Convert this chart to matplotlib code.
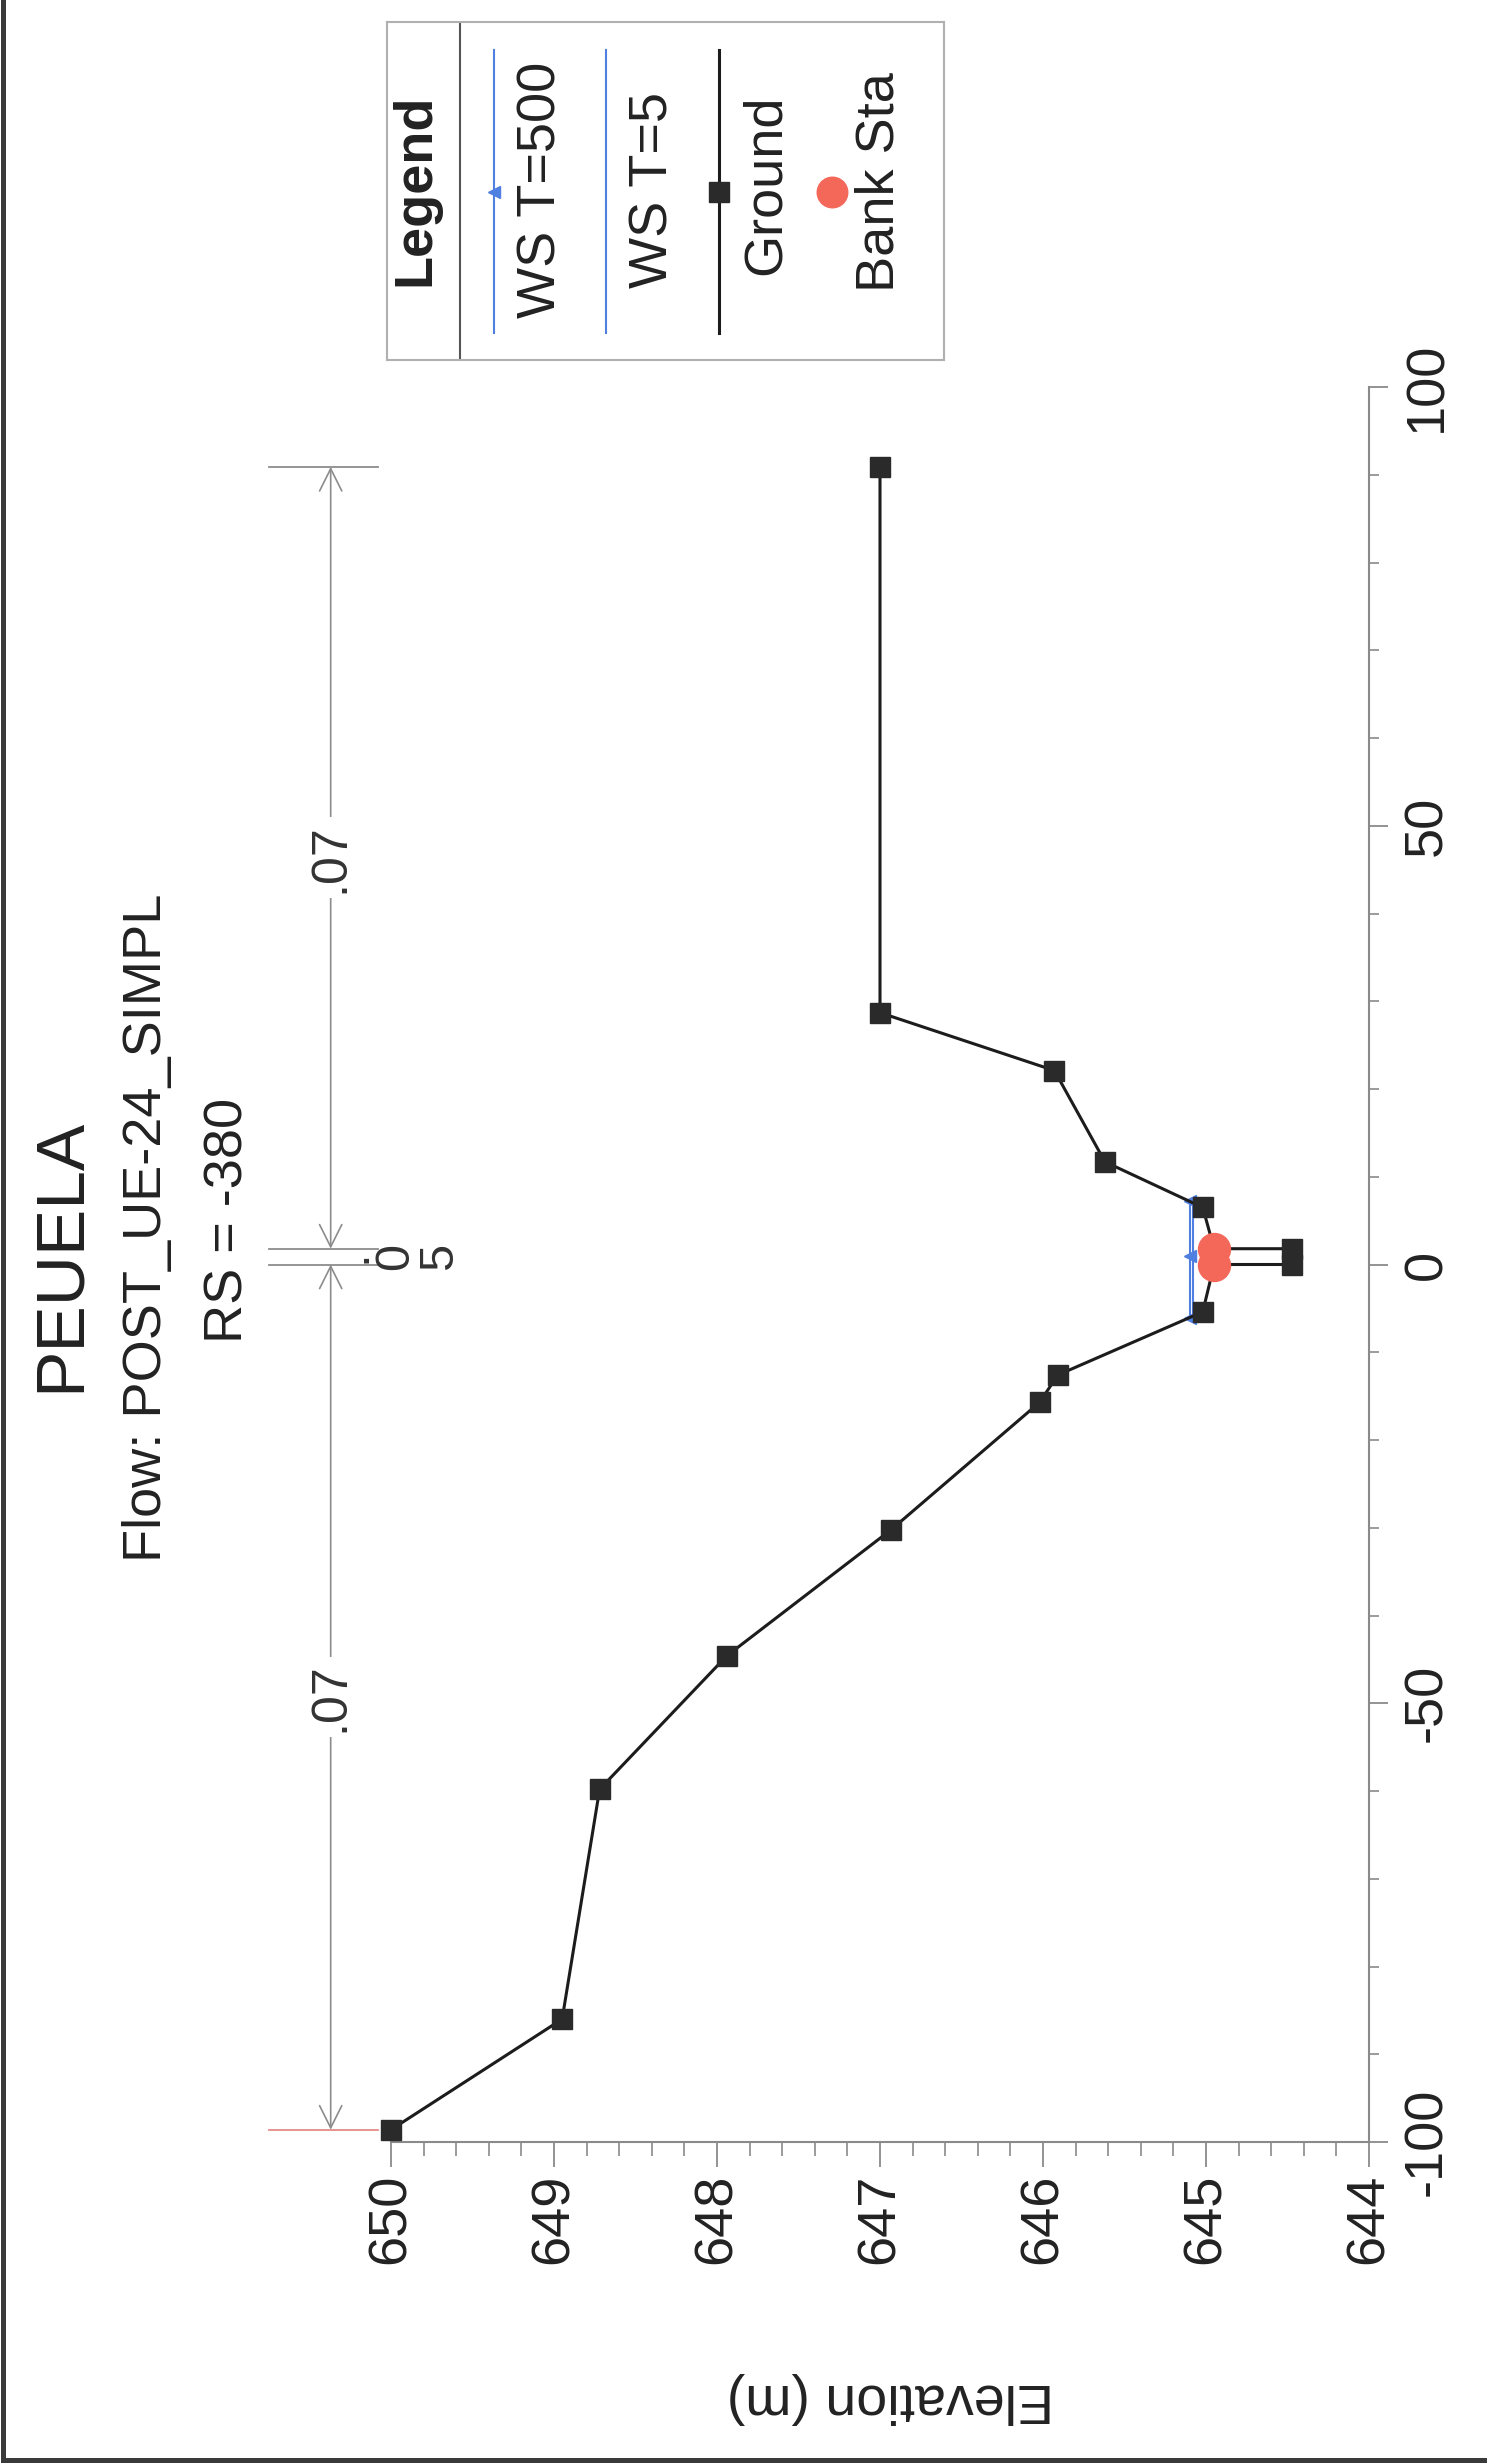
import numpy as np
import matplotlib
matplotlib.use("Agg")
import matplotlib.pyplot as plt
from matplotlib.lines import Line2D
from matplotlib.ticker import FixedLocator

plt.rcParams["font.family"] = ["Liberation Sans", "DejaVu Sans"]

# ground profile: station (m), elevation (m)
ground_sta = [-98.6, -86.0, -59.8, -44.6, -30.2, -15.7, -12.6, -5.4,
              0.0, 0.0, 1.8, 1.8, 6.5, 11.7, 22.1, 28.7, 90.9]
ground_elev = [650.0, 648.95, 648.72, 647.94, 646.93, 646.02, 645.91, 645.02,
               644.95, 644.47, 644.47, 644.95, 645.02, 645.62, 645.93, 647.0, 647.0]

# water surfaces
ws500_sta = [-6.1, 1.0, 7.2]
ws500_elev = [645.10, 645.10, 645.10]
ws5_sta = [-6.0, 7.1]
ws5_elev = [645.08, 645.08]

# bank stations
bank_sta = [0.0, 1.8]
bank_elev = [644.95, 644.95]

# manning's n regions
n_bounds = [-98.6, 0.0, 1.8, 90.9]
n_values = [".07", ".05", ".07"]

elev_ticks = [644, 645, 646, 647, 648, 649, 650]
sta_ticks = [-100, -50, 0, 50, 100]

W, H = 1487, 2464


def fx(x):
    return x / W


def fy(y):
    return 1 - y / H


fig = plt.figure(figsize=(W / 100, H / 100), dpi=100)
fig.patch.set_facecolor("white")

# plot area is rotated: elevation runs left->right (high to low), station bottom->top
ax = fig.add_axes([fx(260.6), fy(2142), fx(1369) - fx(260.6), fy(387) - fy(2142)])
ax.set_xlim(650.8, 644)
ax.set_ylim(-100, 100)
ax.set_facecolor("none")

axis_col = "#8a8a8a"
ax.spines["top"].set_visible(False)
ax.spines["left"].set_visible(False)
ax.spines["bottom"].set_bounds(644, 650)
for s in ("bottom", "right"):
    ax.spines[s].set_color(axis_col)
    ax.spines[s].set_linewidth(1.5)

ax.xaxis.set_major_locator(FixedLocator(elev_ticks))
ax.xaxis.set_minor_locator(FixedLocator(np.arange(644, 650.01, 0.2)))
ax.set_xticklabels([str(t) for t in elev_ticks], rotation=90, fontsize=39, color="#222")
ax.tick_params(axis="x", which="major", direction="out", length=18, width=1.3,
               color=axis_col, pad=5)
ax.tick_params(axis="x", which="minor", direction="out", length=10, width=1.2,
               color=axis_col)

ax.yaxis.tick_right()
ax.yaxis.set_major_locator(FixedLocator(sta_ticks))
ax.yaxis.set_minor_locator(FixedLocator(np.arange(-100, 100.1, 10)))
ax.set_yticklabels([str(t) for t in sta_ticks], rotation=90, va="center",
                   fontsize=39, color="#222")
ax.tick_params(axis="y", which="major", direction="out", length=14, width=1.3,
               color=axis_col, pad=10)
ax.tick_params(axis="y", which="minor", direction="out", length=7, width=1.2,
               color=axis_col)

# n value markers above the section
n_elev = 650.37
n_col = "#8c8c8c"
for i, s in enumerate(n_bounds):
    c = "#e58a8a" if i == 0 else n_col
    ax.plot([650.75, 650.08], [s, s], color=c, lw=1.3, clip_on=False)
for i in range(len(n_values)):
    a, b = n_bounds[i], n_bounds[i + 1]
    mid = (a + b) / 2
    if b - a > 10:
        ax.annotate("", xy=(n_elev, a), xytext=(n_elev, b),
                    arrowprops=dict(arrowstyle="<->,head_length=1.6,head_width=0.8",
                                    color=n_col, lw=1.2, shrinkA=0, shrinkB=0))
        ax.text(n_elev, mid, n_values[i], rotation=90, ha="center", va="center",
                fontsize=36, color="#333",
                bbox=dict(facecolor="white", edgecolor="none", pad=4))
    else:
        # narrow channel: one character per line
        ax.text(649.97, mid, "\n".join(n_values[i]), rotation=90, ha="center",
                va="center", fontsize=35, color="#333", linespacing=0.95)

# water surfaces
ws_col = "#4f7fe0"
ax.plot(ws5_elev, ws5_sta, color=ws_col, lw=1.5, zorder=3)
ax.plot(ws500_elev, ws500_sta, color=ws_col, lw=1.5, marker="<", ms=9,
        zorder=3)

# ground
ax.plot(ground_elev, ground_sta, color="#1c1c1c", lw=2.2, marker="s", ms=15,
        mfc="#2a2a2a", mec="#2a2a2a", zorder=4)

# bank stations
ax.plot(bank_elev, bank_sta, linestyle="none", marker="o", ms=23,
        color="#f4685a", zorder=5)

# titles (rotated page)
fig.text(fx(61), fy(1255), "PEUELA", rotation=90, ha="center", va="center",
         fontsize=50, color="#222")
fig.text(fx(147), fy(1228), "Flow: POST_UE-24_SIMPL", rotation=90, ha="center",
         va="center", fontsize=39, color="#222")
fig.text(fx(228), fy(1220), "RS = -380", rotation=90, ha="center", va="center",
         fontsize=39, color="#222")
fig.text(fx(890), fy(2398), "Elevation (m)", rotation=180, ha="center",
         va="center", fontsize=40, color="#222")

# legend box
lg = fig.add_axes([fx(387), fy(360), fx(944) - fx(387), fy(22) - fy(360)])
lg.set_xlim(387, 944)
lg.set_ylim(360, 22)
lg.set_xticks([])
lg.set_yticks([])
for s in lg.spines.values():
    s.set_color("#b0b0b0")
    s.set_linewidth(1.5)
lg.axvline(460, color="#555", lw=1.5)
lg.text(415, 190, "Legend", rotation=90, ha="center", va="center",
        fontsize=39, fontweight="bold", color="#222")
lg.plot([494, 494], [50, 333], color=ws_col, lw=1.5)
lg.plot([494], [192], marker="<", ms=9, color=ws_col)
lg.text(542, 190, "WS T=500", rotation=90, ha="center", va="center",
        fontsize=39, color="#222")
lg.plot([606, 606], [50, 333], color=ws_col, lw=1.5)
lg.text(654, 190, "WS T=5", rotation=90, ha="center", va="center",
        fontsize=39, color="#222")
lg.plot([719, 719], [50, 333], color="#1c1c1c", lw=2.2)
lg.plot([719], [192], marker="s", ms=15, color="#2a2a2a")
lg.text(766, 185, "Ground", rotation=90, ha="center", va="center",
        fontsize=39, color="#222")
lg.plot([832], [192], marker="o", ms=22, color="#f4685a")
lg.text(879, 182, "Bank Sta", rotation=90, ha="center", va="center",
        fontsize=39, color="#222")

# window frame edges
fig.add_artist(Line2D([fx(3), fx(3)], [fy(2460), 1], color="#3a3a3a", lw=3.6,
                      transform=fig.transFigure))
fig.add_artist(Line2D([fx(3), 1], [fy(2460), fy(2460)], color="#3a3a3a", lw=3.6,
                      transform=fig.transFigure))

fig.savefig("out.png", dpi=100)
